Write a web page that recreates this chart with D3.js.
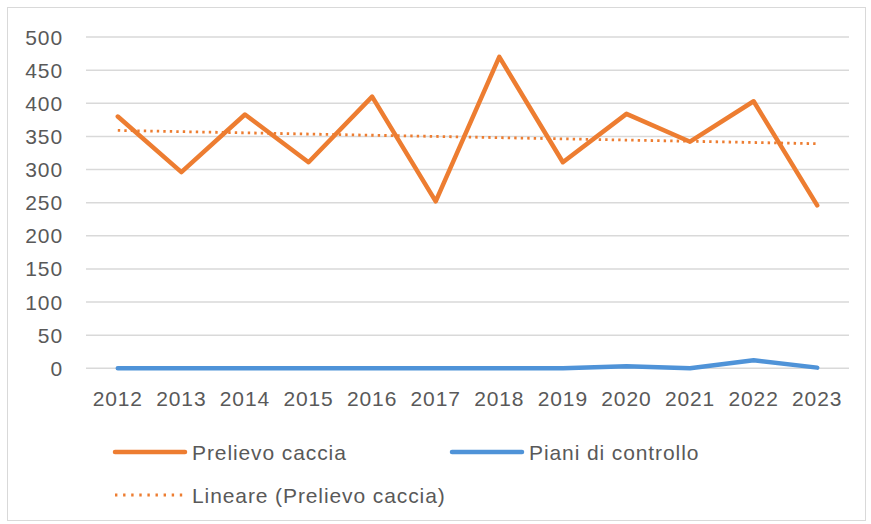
<!DOCTYPE html>
<html>
<head>
<meta charset="utf-8">
<script src="https://cdn.jsdelivr.net/npm/d3@7"></script>
<style>
  body { margin: 0; background: #fff; }
  text { font-family: "Liberation Sans", Arial, sans-serif; fill: #595959; }
</style>
</head>
<body>
<script>
// Data
var years = ["2012", "2013", "2014", "2015", "2016", "2017", "2018", "2019", "2020", "2021", "2022", "2023"];
var prelievoCaccia = [380, 296, 383, 311, 410, 252, 470, 311, 384, 342, 403, 246];
var pianiControllo = [0, 0, 0, 0, 0, 0, 0, 0, 3, 0, 12, 1];
// linear trend of Prelievo caccia, value at first and last year
var trendYears = ["2012", "2023"];
var trendValues = [359, 339];
var yTicks = [0, 50, 100, 150, 200, 250, 300, 350, 400, 450, 500];

var svgWidth = 871;
var svgHeight = 524;

var orange = "#ED7D31";
var blue = "#4F93D8";

var svg = d3.select("body")
  .append("svg")
  .attr("width", svgWidth)
  .attr("height", svgHeight);

// outer chart border
svg.append("rect")
  .attr("x", 7.5)
  .attr("y", 7.5)
  .attr("width", 858)
  .attr("height", 513)
  .attr("fill", "none")
  .attr("stroke", "#d9d9d9")
  .attr("stroke-width", 1);

var xBand = d3.scaleBand()
  .domain(years)
  .range([86, 849]);

var yLinear = d3.scaleLinear()
  .domain([0, 500])
  .range([368.3, 37]);

var xMid = d => xBand(d) + xBand.bandwidth() / 2;

// gridlines
svg.append("g")
  .selectAll("line")
  .data(yTicks)
  .enter()
  .append("line")
  .attr("x1", 86)
  .attr("x2", 849)
  .attr("y1", d => yLinear(d))
  .attr("y2", d => yLinear(d))
  .attr("stroke", "#d9d9d9")
  .attr("stroke-width", 1.5);

// y axis labels
svg.append("g")
  .selectAll("text")
  .data(yTicks)
  .enter()
  .append("text")
  .attr("x", 63)
  .attr("y", d => yLinear(d) + 7.5)
  .attr("text-anchor", "end")
  .attr("font-size", "21px")
  .attr("letter-spacing", "0.9px")
  .text(d => d);

// x axis labels
svg.append("g")
  .selectAll("text")
  .data(years)
  .enter()
  .append("text")
  .attr("x", d => xMid(d))
  .attr("y", 406)
  .attr("text-anchor", "middle")
  .attr("font-size", "21px")
  .attr("letter-spacing", "0.9px")
  .text(d => d);

var line = d3.line()
  .x(d => xMid(d.year))
  .y(d => yLinear(d.value));

var caccia = years.map((y, i) => ({ year: y, value: prelievoCaccia[i] }));
var piani = years.map((y, i) => ({ year: y, value: pianiControllo[i] }));
var trend = trendYears.map((y, i) => ({ year: y, value: trendValues[i] }));

svg.append("path")
  .datum(piani)
  .attr("d", line)
  .attr("fill", "none")
  .attr("stroke", blue)
  .attr("stroke-width", 4.5)
  .attr("stroke-linecap", "round")
  .attr("stroke-linejoin", "round");

svg.append("path")
  .datum(caccia)
  .attr("d", line)
  .attr("fill", "none")
  .attr("stroke", orange)
  .attr("stroke-width", 4.5)
  .attr("stroke-linecap", "round")
  .attr("stroke-linejoin", "round");

svg.append("path")
  .datum(trend)
  .attr("d", line)
  .attr("fill", "none")
  .attr("stroke", orange)
  .attr("stroke-width", 2.8)
  .attr("stroke-dasharray", "2.4,4.1");

// legend
var legend = [
  { label: "Prelievo caccia", color: orange, dotted: false, x: 115, y: 452 },
  { label: "Piani di controllo", color: blue, dotted: false, x: 452, y: 452 },
  { label: "Lineare (Prelievo caccia)", color: orange, dotted: true, x: 115, y: 495 }
];

var legendItems = svg.append("g")
  .selectAll("g")
  .data(legend)
  .enter()
  .append("g")
  .attr("transform", d => `translate(${d.x}, ${d.y})`);

legendItems.append("line")
  .attr("x1", 0)
  .attr("x2", d => d.dotted ? 69 : 70)
  .attr("y1", 0)
  .attr("y2", 0)
  .attr("stroke", d => d.color)
  .attr("stroke-width", d => d.dotted ? 2.8 : 4.5)
  .attr("stroke-linecap", d => d.dotted ? "butt" : "round")
  .attr("stroke-dasharray", d => d.dotted ? "2.4,5.7" : null);

legendItems.append("text")
  .attr("x", 77)
  .attr("y", 7.5)
  .attr("font-size", "21px")
  .attr("letter-spacing", "0.9px")
  .text(d => d.label);
</script>
</body>
</html>
